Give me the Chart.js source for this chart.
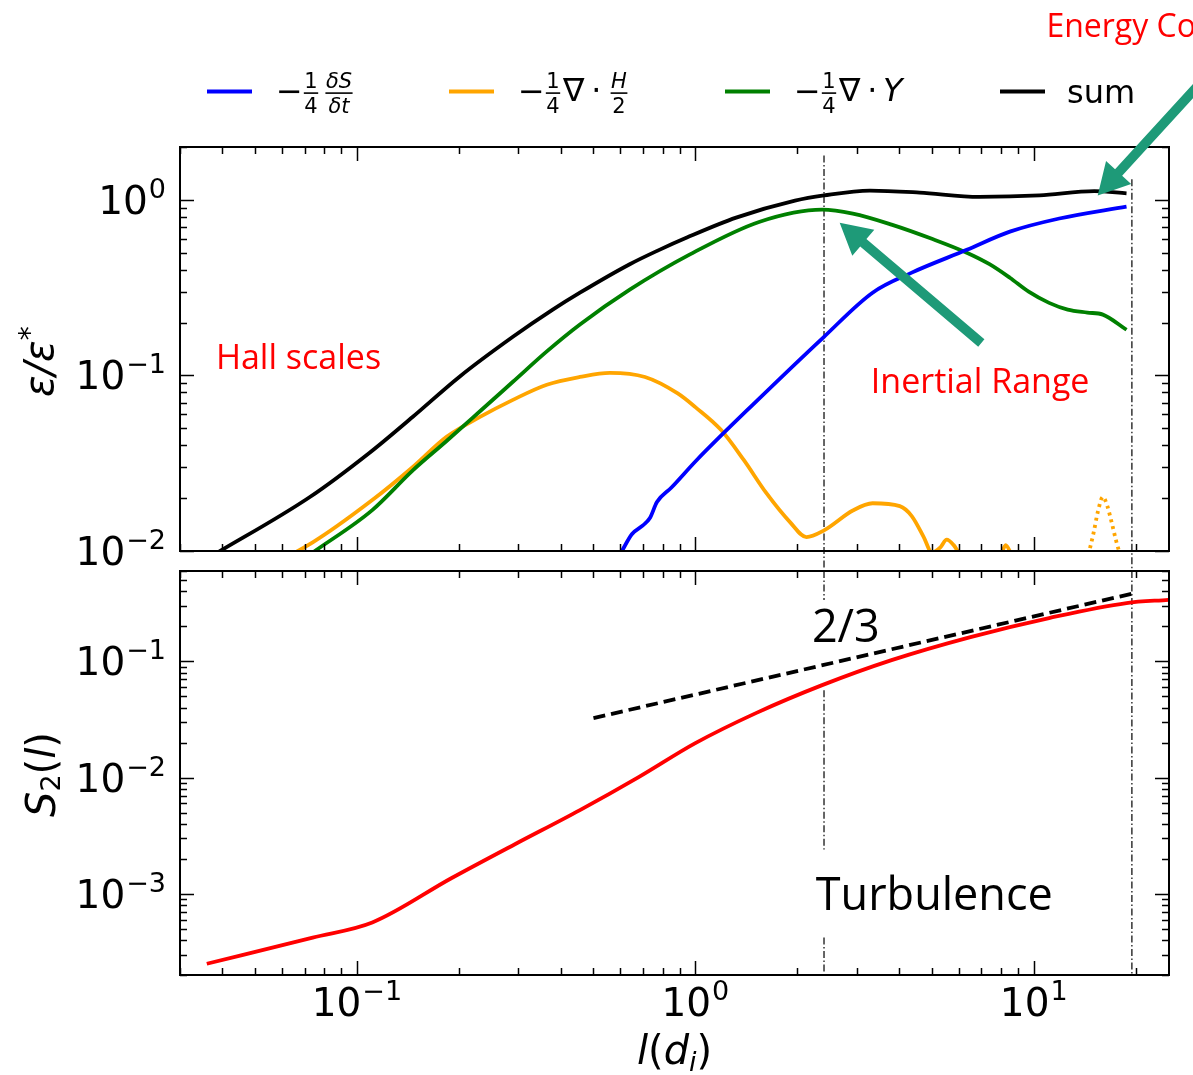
<!DOCTYPE html>
<html>
<head>
<meta charset="utf-8">
<script src="https://cdn.jsdelivr.net/npm/chart.js@4.4.1/dist/chart.umd.min.js"></script>
<style>
body { margin: 0; background: #fff; width: 1193px; height: 1075px; position: relative; overflow: hidden; }
canvas { position: absolute; left: 0; }
#top { top: 0; }
#bot { top: 560px; }
</style>
</head>
<body>
<canvas id="top" width="1193" height="575"></canvas>
<canvas id="bot" width="1193" height="515"></canvas>
<script>
// values, l in units of d_i
const sumL = [0.037, 0.0726, 0.109, 0.146, 0.201, 0.289, 0.379, 0.456, 0.64, 0.774, 0.944, 1.32, 1.97, 2.40, 3.28, 4.6, 6.9, 10.4, 15.1, 18.8];
const sumV = [0.0093, 0.0203, 0.0363, 0.058, 0.0984, 0.166, 0.237, 0.296, 0.43, 0.514, 0.61, 0.792, 0.99, 1.06, 1.13, 1.10, 1.04, 1.06, 1.12, 1.09];

const dsdtL = [0.58, 0.607, 0.65, 0.70, 0.734, 0.77, 0.85, 1.01, 1.53, 2.4, 3.34, 4.36, 6.34, 8.5, 11.9, 18.8];
const dsdtV = [0.0085, 0.01, 0.0125, 0.014, 0.0154, 0.019, 0.023, 0.033, 0.0726, 0.166, 0.296, 0.385, 0.519, 0.659, 0.783, 0.916];

const hallL = [0.037, 0.074, 0.111, 0.146, 0.184, 0.231, 0.289, 0.364, 0.456, 0.559, 0.71, 0.887, 1.0, 1.19, 1.39, 1.62, 1.91, 2.13, 2.4, 2.92, 3.34, 4.02, 4.36, 4.73, 5.0, 5.3, 5.53, 5.8, 6.0, 6.5, 7.5, 8.0, 8.26, 8.6, 9.5];
const hallV = [0.0056, 0.0112, 0.0195, 0.030, 0.0447, 0.058, 0.0726, 0.0885, 0.098, 0.1035, 0.098, 0.079, 0.066, 0.049, 0.033, 0.0214, 0.0145, 0.012, 0.0131, 0.017, 0.0187, 0.018, 0.0158, 0.012, 0.0098, 0.0105, 0.0116, 0.0108, 0.0098, 0.008, 0.008, 0.0095, 0.0108, 0.0095, 0.007];

// negative part of the Hall term, drawn dotted
const hallNegL = [14.5, 15.0, 15.5, 16.0, 16.5, 17.0, 17.5, 18.0];
const hallNegV = [0.0095, 0.0125, 0.017, 0.0203, 0.018, 0.0145, 0.0115, 0.0095];

const yL = [0.074, 0.111, 0.146, 0.184, 0.231, 0.289, 0.364, 0.456, 0.64, 0.964, 1.55, 2.37, 2.92, 3.8, 5.0, 6.34, 7.4, 8.5, 9.66, 11.1, 12.6, 14.4, 16.0, 18.8];
const yV = [0.0098, 0.0171, 0.0287, 0.0423, 0.0625, 0.092, 0.137, 0.195, 0.308, 0.489, 0.751, 0.88, 0.835, 0.723, 0.60, 0.50, 0.43, 0.36, 0.30, 0.259, 0.237, 0.228, 0.222, 0.182];

const s2L = [0.036, 0.074, 0.111, 0.19, 0.293, 0.456, 0.68, 1.0, 1.51, 2.37, 3.8, 6.5, 11.1, 18.8, 25];
const s2V = [2.5e-4, 4.2e-4, 5.66e-4, 1.36e-3, 2.67e-3, 5.25e-3, 0.0101, 0.0198, 0.0359, 0.0625, 0.1026, 0.162, 0.236, 0.318, 0.339];

// l^(2/3) guide
const slopeL = [0.5, 20];
const slopeV = [0.0325, 0.389];

// range boundaries
const refL = [2.4, 19.5];

const xTicks = [0.1, 1, 10];
const topYTicks = [0.01, 0.1, 1];
const botYTicks = [0.001, 0.01, 0.1];

Chart.defaults.font.family = 'DejaVu Sans';
Chart.defaults.color = '#000';

function pts(xs, ys) {
  return xs.map((x, i) => ({ x: x, y: ys[i] }));
}

function vline(x, segs) {
  const d = [];
  segs.forEach((s, i) => {
    if (i) d.push({ x: x, y: null });
    d.push({ x: x, y: s[0] }, { x: x, y: s[1] });
  });
  return d;
}

function curve(data, color, extra) {
  return Object.assign({
    data: data, borderColor: color, borderWidth: 3.8, pointRadius: 0,
    cubicInterpolationMode: 'monotone', fill: false
  }, extra || {});
}

function refLine(data) {
  return {
    data: data, borderColor: '#000', borderWidth: 1.2, pointRadius: 0,
    borderDash: [7, 2.5, 1.5, 2.5], clip: false, tension: 0
  };
}

function logTicks(min, max) {
  const out = [];
  for (let e = Math.floor(Math.log10(min)); e <= Math.ceil(Math.log10(max)); e++) {
    for (let k = 1; k < 10; k++) {
      const v = k * Math.pow(10, e);
      if (v >= min * 0.9999 && v <= max * 1.0001) out.push([v, k === 1]);
    }
  }
  return out;
}

// "10" with a raised exponent
function drawPow(ctx, v, x, y, align) {
  const e = Math.round(Math.log10(v));
  const exp = e < 0 ? '\u2212' + (-e) : String(e);
  ctx.font = '39px DejaVu Sans';
  const w1 = ctx.measureText('10').width;
  ctx.font = '27px DejaVu Sans';
  const w2 = ctx.measureText(exp).width;
  const x0 = align === 'right' ? x - w1 - w2 - 1 : x - (w1 + w2 + 1) / 2;
  ctx.font = '39px DejaVu Sans';
  ctx.fillText('10', x0, y);
  ctx.font = '27px DejaVu Sans';
  ctx.fillText(exp, x0 + w1 + 1, y - 16);
}

// frame with inward ticks on every side, plus decade labels
const framePlugin = {
  id: 'frame',
  afterDraw(chart, args, opts) {
    const ctx = chart.ctx, a = chart.chartArea;
    const xs = chart.scales.x, ys = chart.scales.y;
    ctx.save();
    ctx.strokeStyle = '#000';
    ctx.lineWidth = 1.5;
    ctx.beginPath();
    logTicks(xs.min, xs.max).forEach(([v, major]) => {
      const p = Math.round(xs.getPixelForValue(v)) + 0.5, len = major ? 14 : 7;
      ctx.moveTo(p, a.bottom); ctx.lineTo(p, a.bottom - len);
      ctx.moveTo(p, a.top); ctx.lineTo(p, a.top + len);
    });
    logTicks(ys.min, ys.max).forEach(([v, major]) => {
      const p = Math.round(ys.getPixelForValue(v)) + 0.5, len = major ? 14 : 7;
      ctx.moveTo(a.left, p); ctx.lineTo(a.left + len, p);
      ctx.moveTo(a.right, p); ctx.lineTo(a.right - len, p);
    });
    ctx.stroke();
    ctx.lineWidth = 2;
    ctx.strokeRect(a.left, a.top, a.right - a.left, a.bottom - a.top);

    ctx.fillStyle = '#000';
    ctx.textAlign = 'left';
    ctx.textBaseline = 'alphabetic';
    (opts.yLabels || []).forEach(v => {
      drawPow(ctx, v, a.left - 14, ys.getPixelForValue(v) + 14, 'right');
    });
    (opts.xLabels || []).forEach(v => {
      drawPow(ctx, v, xs.getPixelForValue(v), a.bottom + 41, 'center');
    });
    ctx.restore();
  }
};

function drawArrow(ctx, x1, y1, x2, y2, color) {
  const ang = Math.atan2(y2 - y1, x2 - x1), L = Math.hypot(x2 - x1, y2 - y1);
  const hl = 31, hw = 17, sw = 4.8;
  ctx.save();
  ctx.translate(x1, y1);
  ctx.rotate(ang);
  ctx.fillStyle = color;
  ctx.beginPath();
  ctx.moveTo(0, -sw); ctx.lineTo(L - hl, -sw); ctx.lineTo(L - hl, -hw);
  ctx.lineTo(L, 0); ctx.lineTo(L - hl, hw); ctx.lineTo(L - hl, sw); ctx.lineTo(0, sw);
  ctx.closePath();
  ctx.fill();
  ctx.restore();
}

// pieces of text with own font and vertical shift
function drawRuns(ctx, runs, x, y) {
  runs.forEach(r => {
    ctx.font = r.font;
    ctx.fillText(r.t, x, y + (r.dy || 0));
    x += ctx.measureText(r.t).width;
  });
}

// text, arrows and axis titles
const notesPlugin = {
  id: 'notes',
  afterDraw(chart, args, opts) {
    const ctx = chart.ctx, xs = chart.scales.x, ys = chart.scales.y;
    ctx.save();
    (opts.arrows || []).forEach(ar => {
      drawArrow(ctx, xs.getPixelForValue(ar.from[0]), ys.getPixelForValue(ar.from[1]),
        xs.getPixelForValue(ar.to[0]), ys.getPixelForValue(ar.to[1]), ar.color);
    });
    ctx.textBaseline = 'alphabetic';
    ctx.textAlign = 'left';
    (opts.texts || []).forEach(t => {
      ctx.fillStyle = t.color;
      ctx.font = t.font;
      ctx.fillText(t.text, xs.getPixelForValue(t.at[0]), ys.getPixelForValue(t.at[1]));
    });
    ctx.fillStyle = '#000';
    if (opts.yTitle) {
      ctx.save();
      ctx.translate(opts.yTitle.x, opts.yTitle.y);
      ctx.rotate(-Math.PI / 2);
      drawRuns(ctx, opts.yTitle.runs, 0, 0);
      ctx.restore();
    }
    if (opts.xTitle) drawRuns(ctx, opts.xTitle.runs, opts.xTitle.x, opts.xTitle.y);
    ctx.restore();
  }
};

function frac(ctx, xc, num, den, numFont, denFont) {
  ctx.textAlign = 'center';
  ctx.font = numFont;
  const w1 = ctx.measureText(num).width;
  ctx.fillText(num, xc, 88);
  ctx.font = denFont || numFont;
  const w2 = ctx.measureText(den).width;
  ctx.fillText(den, xc, 113);
  const w = Math.max(w1, w2) + 1;
  ctx.fillRect(xc - w / 2, 92.3, w, 1.6);
  ctx.textAlign = 'left';
}

// legend with the math labels
const legendPlugin = {
  id: 'mathLegend',
  afterDraw(chart) {
    const ctx = chart.ctx;
    const big = '32px DejaVu Sans', small = '21px DejaVu Sans', smallIt = 'italic 21px DejaVu Sans';
    ctx.save();
    ctx.lineWidth = 4;
    [['#0000ff', 207], ['#ffa500', 449], ['#008000', 725], ['#000000', 1000]].forEach(([c, x]) => {
      ctx.strokeStyle = c;
      ctx.beginPath(); ctx.moveTo(x, 91.5); ctx.lineTo(x + 45, 91.5); ctx.stroke();
    });
    ctx.fillStyle = '#000';
    ctx.textAlign = 'left';
    ctx.textBaseline = 'alphabetic';
    ctx.font = big;
    ctx.fillText('\u2212', 276, 102);
    frac(ctx, 311, '1', '4', small);
    frac(ctx, 339, '\u03B4S', '\u03B4t', smallIt);

    ctx.font = big;
    ctx.fillText('\u2212', 518, 102);
    frac(ctx, 553, '1', '4', small);
    ctx.font = big;
    ctx.fillText('\u2207', 563, 101);
    ctx.fillText('\u22C5', 591, 101);
    frac(ctx, 619, 'H', '2', smallIt, small);

    ctx.font = big;
    ctx.fillText('\u2212', 794, 102);
    frac(ctx, 829, '1', '4', small);
    ctx.font = big;
    ctx.fillText('\u2207', 839, 101);
    ctx.fillText('\u22C5', 867, 101);
    ctx.font = 'italic 32px DejaVu Sans';
    ctx.fillText('Y', 883, 101);

    ctx.font = big;
    ctx.fillText('sum', 1067, 103);
    ctx.restore();
  }
};

const xMin = 0.03, xMax = 25.1;

new Chart(document.getElementById('top'), {
  type: 'line',
  data: {
    datasets: [
      curve(pts(sumL, sumV), '#000000'),
      curve(pts(dsdtL, dsdtV), '#0000ff'),
      curve(pts(yL, yV), '#008000'),
      curve(pts(hallL, hallV), '#ffa500'),
      curve(pts(hallNegL, hallNegV), '#ffa500', { borderDash: [3, 4] }),
      refLine(vline(refL[0], [[1.79, 0.0077]])),
      refLine(vline(refL[1], [[1.31, 0.0077]]))
    ]
  },
  options: {
    responsive: false, animation: false, events: [],
    layout: { padding: { top: 147, right: 24, bottom: 24, left: 180 } },
    scales: {
      x: { type: 'logarithmic', min: xMin, max: xMax, display: false },
      y: { type: 'logarithmic', min: 0.01, max: 2.0, display: false }
    },
    plugins: {
      legend: { display: false }, tooltip: { enabled: false },
      frame: { yLabels: topYTicks },
      notes: {
        arrows: [
          { from: [7.0, 0.153], to: [2.67, 0.741], color: '#1e9a78' },
          { from: [31, 4.6], to: [15.45, 1.06], color: '#1e9a78' }
        ],
        texts: [
          { text: 'Hall scales', at: [0.0383, 0.109], color: '#ff0000', font: '34px "Open Sans"' },
          { text: 'Inertial Range', at: [3.3, 0.0796], color: '#ff0000', font: '34px "Open Sans"' },
          { text: 'Energy Co', at: [10.9, 8.43], color: '#ff0000', font: '32px "Open Sans"' }
        ],
        yTitle: {
          x: 53, y: 397,
          runs: [
            { t: '\u03B5/\u03B5', font: 'italic 40px DejaVu Sans' },
            { t: '*', font: '28px DejaVu Sans', dy: -14 }
          ]
        }
      }
    }
  },
  plugins: [framePlugin, notesPlugin, legendPlugin]
});

new Chart(document.getElementById('bot'), {
  type: 'line',
  data: {
    datasets: [
      curve(pts(s2L, s2V), '#ff0000'),
      curve(pts(slopeL, slopeV), '#000000', { borderDash: [12, 6], cubicInterpolationMode: 'default', tension: 0 }),
      refLine(vline(refL[0], [[0.6, 0.337], [0.0566, 0.00241], [4.2e-4, 2e-4]])),
      refLine(vline(refL[1], [[0.6, 2e-4]]))
    ]
  },
  options: {
    responsive: false, animation: false, events: [],
    layout: { padding: { top: 11, right: 24, bottom: 100, left: 180 } },
    scales: {
      x: { type: 'logarithmic', min: xMin, max: xMax, display: false },
      y: { type: 'logarithmic', min: 2e-4, max: 0.6, display: false }
    },
    plugins: {
      legend: { display: false }, tooltip: { enabled: false },
      frame: { xLabels: xTicks, yLabels: botYTicks },
      notes: {
        texts: [
          { text: '2/3', at: [2.21, 0.147], color: '#000', font: '45px "Open Sans"' },
          { text: 'Turbulence', at: [2.27, 7.2e-4], color: '#000', font: '45px "Open Sans"' }
        ],
        yTitle: {
          x: 55, y: 257,
          runs: [
            { t: 'S', font: 'italic 40px DejaVu Sans' },
            { t: '2', font: '27px DejaVu Sans', dy: 5 },
            { t: '(', font: '40px DejaVu Sans' },
            { t: 'l', font: 'italic 40px DejaVu Sans' },
            { t: ')', font: '40px DejaVu Sans' }
          ]
        },
        xTitle: {
          x: 637, y: 504,
          runs: [
            { t: 'l', font: 'italic 40px DejaVu Sans' },
            { t: '(', font: '40px DejaVu Sans' },
            { t: 'd', font: 'italic 40px DejaVu Sans' },
            { t: 'i', font: 'italic 27px DejaVu Sans', dy: 7 },
            { t: ')', font: '40px DejaVu Sans' }
          ]
        }
      }
    }
  },
  plugins: [framePlugin, notesPlugin]
});
</script>
</body>
</html>
